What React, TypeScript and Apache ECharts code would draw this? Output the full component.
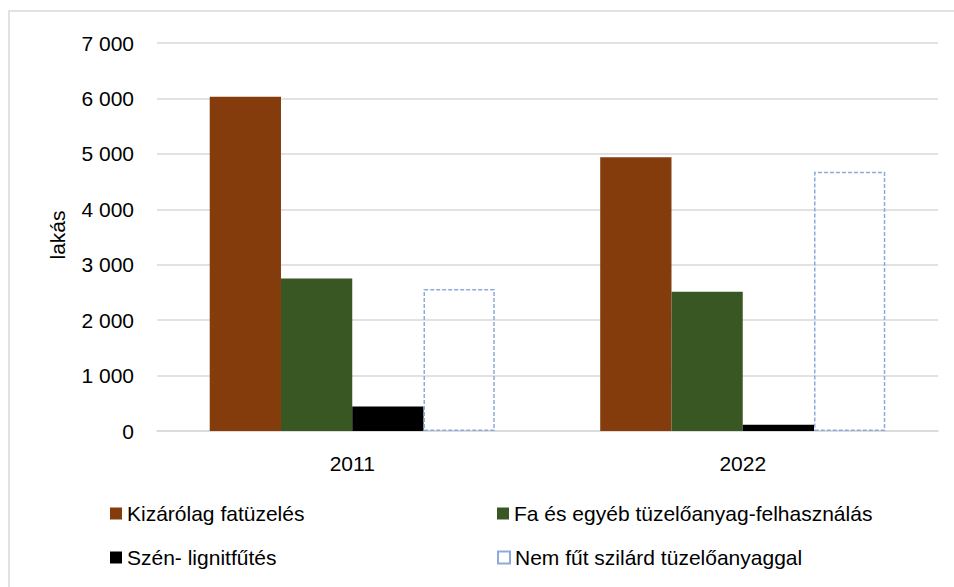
import React, { useEffect, useRef } from "react";
import * as echarts from "echarts";

const categories = ["2011", "2022"];
const seriesNames = [
  "Kizárólag fatüzelés",
  "Fa és egyéb tüzelőanyag-felhasználás",
  "Szén- lignitfűtés",
  "Nem fűt szilárd tüzelőanyaggal",
];
const fatuzeles = [6030, 4940];
const faEsEgyeb = [2750, 2510];
const szen = [440, 115];
const nemFut = [2560, 4675];
const yTicks = [0, 1000, 2000, 3000, 4000, 5000, 6000, 7000];

const FONT = "Liberation Sans";
const FS = 21;

function fmt(v: number): string {
  const s = String(Math.round(v));
  return s.replace(/\B(?=(\d{3})+(?!\d))/g, " ");
}

export default function App() {
  const ref = useRef<HTMLDivElement>(null);
  useEffect(() => {
    if (!ref.current) return;
    const chart = echarts.init(ref.current, undefined, { renderer: "svg" });
    const legendBase = {
      itemWidth: 12,
      itemHeight: 12,
      itemGap: 0,
      icon: "rect",
      textStyle: { fontFamily: FONT, fontSize: FS, color: "#000" },
      padding: 0,
      selectedMode: false,
    };
    chart.setOption({
      animation: false,
      textStyle: { fontFamily: FONT },
      grid: { left: 157, right: 16, top: 43, bottom: 156, containLabel: false },
      legend: [
        { ...legendBase, data: [seriesNames[0]], left: 110, top: 503 },
        { ...legendBase, data: [seriesNames[1]], left: 497, top: 503 },
        { ...legendBase, data: [seriesNames[2]], left: 110, top: 547 },
        { ...legendBase, data: [seriesNames[3]], left: 497, top: 547 },
      ],
      xAxis: {
        type: "category",
        data: categories,
        axisLine: { show: true, lineStyle: { color: "#d9d9d9", width: 1.5 } },
        axisTick: { show: false },
        axisLabel: { fontFamily: FONT, fontSize: FS, color: "#000", margin: 22 },
      },
      yAxis: {
        type: "value",
        min: yTicks[0],
        max: yTicks[yTicks.length - 1],
        interval: 1000,
        axisLine: { show: false },
        axisTick: { show: false },
        splitLine: { lineStyle: { color: "#d9d9d9", width: 1.5 } },
        axisLabel: {
          fontFamily: FONT,
          fontSize: FS,
          color: "#000",
          margin: 23,
          formatter: (v: number) => fmt(v),
        },
      },
      graphic: [
        {
          type: "rect",
          shape: { x: 9, y: 11, width: 1200, height: 1000 },
          style: { fill: "none", stroke: "#d9d9d9", lineWidth: 1.5 },
          silent: true,
        },
        {
          type: "text",
          x: 57,
          y: 235,
          rotation: Math.PI / 2,
          style: {
            text: "lakás",
            fontFamily: FONT,
            fontSize: FS,
            fill: "#000",
            align: "center",
            verticalAlign: "middle",
          },
        },
      ],
      series: [
        {
          name: seriesNames[0],
          type: "bar",
          data: fatuzeles,
          barGap: "0%",
          barCategoryGap: "27%",
          itemStyle: { color: "#843c0c" },
        },
        {
          name: seriesNames[1],
          type: "bar",
          data: faEsEgyeb,
          barGap: "0%",
          barCategoryGap: "27%",
          itemStyle: { color: "#385723" },
        },
        {
          name: seriesNames[2],
          type: "bar",
          data: szen,
          barGap: "0%",
          barCategoryGap: "27%",
          itemStyle: { color: "#000000" },
        },
        {
          name: seriesNames[3],
          type: "bar",
          data: nemFut,
          barGap: "0%",
          barCategoryGap: "27%",
          itemStyle: {
            color: "rgba(255,255,255,0)",
            borderColor: "#8eaadb",
            borderWidth: 1.5,
            borderType: [4, 2],
          },
        },
      ],
    });
    return () => chart.dispose();
  }, []);
  return (
    <div
      ref={ref}
      style={{ position: "absolute", left: 0, top: 0, width: 954, height: 587 }}
    />
  );
}
